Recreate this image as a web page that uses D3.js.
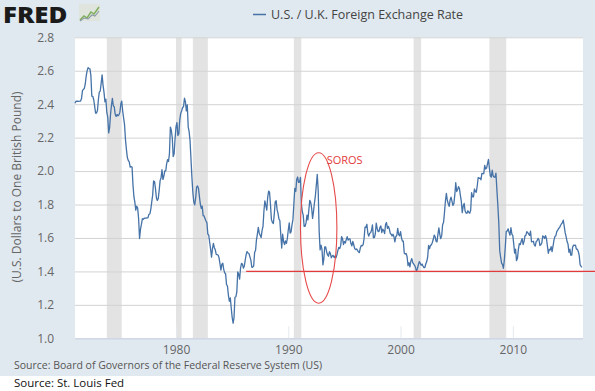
<!DOCTYPE html>
<html><head><meta charset="utf-8">
<script src="https://cdn.jsdelivr.net/npm/d3@7"></script>
<style>
html,body{margin:0;padding:0;background:#fff}
svg{display:block}
text{font-family:"Open Sans",sans-serif}
</style>
</head><body>
<svg id="chart" width="595" height="391"></svg>
<script>
// ---------------- DATA ----------------
const seriesName = "U.S. / U.K. Foreign Exchange Rate";
const yTitle = "(U.S. Dollars to One British Pound)";
const sourceLine = "Source: Board of Governors of the Federal Reserve System (US)";
const creditLine = "Source: St. Louis Fed";
const startYear = 1971; // monthly series starts Jan 1971

const rate1970s = [
  2.4058,2.4178,2.4175,2.4176,2.4174,2.4181,2.4190,2.4334,2.4813,2.4881,2.4947,2.5208,
  2.5695,2.6005,2.6185,2.6130,2.6117,2.5705,2.4480,2.4472,2.4264,2.3882,2.3466,2.3468,
  2.3625,2.4295,2.4718,2.4786,2.5246,2.5756,2.5142,2.4724,2.4141,2.4305,2.3507,2.3228,
  2.2279,2.2618,2.3378,2.3920,2.4346,2.3909,2.3843,2.3392,2.3264,2.3384,2.3305,2.3359,
  2.3525,2.4029,2.4187,2.3605,2.3178,2.2774,2.1884,2.1292,2.0805,2.0634,2.0551,2.0237,
  2.0265,2.0241,1.9174,1.8468,1.8145,1.7659,1.7898,1.7786,1.7147,1.5965,1.6523,1.6808,
  1.7148,1.7112,1.7178,1.7186,1.7182,1.7196,1.7200,1.7410,1.7434,1.7696,1.8139,1.8547,
  1.9410,1.9375,1.8985,1.8418,1.8243,1.8347,1.8832,1.9430,1.9596,2.0081,1.9499,1.9701,
  2.0005,2.0017,2.0428,2.0686,2.0573,2.1045,2.2634,2.2433,2.1992,2.0872,2.1033,2.1952
];
const rate1980s = [
  2.2651,2.2903,2.2132,2.2224,2.3052,2.3449,2.3590,2.3798,2.3850,2.4358,2.4152,2.3595,
  2.3965,2.2623,2.2371,2.1812,2.0733,1.9622,1.8743,1.8149,1.7978,1.8393,1.9055,1.9107,
  1.8965,1.8466,1.8031,1.7771,1.7906,1.7339,1.7316,1.7166,1.7015,1.6915,1.6234,1.6164,
  1.5729,1.5303,1.4858,1.5358,1.5672,1.5417,1.5289,1.5024,1.4997,1.4980,1.4807,1.4450,
  1.4074,1.4437,1.4493,1.4120,1.3921,1.3862,1.3219,1.3123,1.2563,1.2215,1.2415,1.1811,
  1.1255,1.0900,1.1213,1.2456,1.2484,1.2774,1.3964,1.3844,1.3545,1.4215,1.4479,1.4437,
  1.4194,1.4330,1.4666,1.5005,1.5190,1.5099,1.5073,1.4870,1.4672,1.4251,1.4250,1.4328,
  1.5137,1.5261,1.5874,1.6230,1.6629,1.6284,1.6157,1.6025,1.6449,1.6694,1.7644,1.8219,
  1.7946,1.7671,1.8416,1.8806,1.8738,1.7964,1.7097,1.6939,1.6866,1.7413,1.8155,1.8230,
  1.7693,1.7474,1.7137,1.7045,1.6202,1.5397,1.6224,1.5790,1.5606,1.5822,1.5673,1.5968
];
const rate1990s = [
  1.6492,1.6906,1.6292,1.6366,1.6781,1.7110,1.8034,1.8964,1.8784,1.9491,1.9644,1.9321,
  1.9342,1.9618,1.8075,1.7584,1.7367,1.6690,1.6695,1.6899,1.7364,1.7084,1.7687,1.8252,
  1.8119,1.7760,1.7170,1.7595,1.8103,1.8537,1.9159,1.9800,1.8772,1.6409,1.5286,1.5574,
  1.5316,1.4387,1.4736,1.5466,1.5465,1.5178,1.4984,1.4908,1.5178,1.5066,1.4818,1.4923,
  1.4957,1.4827,1.4909,1.4818,1.4988,1.5242,1.5433,1.5362,1.5542,1.6082,1.5959,1.5602,
  1.5788,1.5699,1.5898,1.6078,1.5868,1.5944,1.5948,1.5666,1.5523,1.5792,1.5595,1.5364,
  1.5307,1.5345,1.5254,1.5168,1.5121,1.5403,1.5558,1.5529,1.5598,1.5952,1.6648,1.6628,
  1.6818,1.6275,1.6108,1.6270,1.6319,1.6456,1.6778,1.6022,1.6017,1.6236,1.6883,1.6568,
  1.6383,1.6399,1.6635,1.6720,1.6322,1.6529,1.6458,1.6262,1.6821,1.6925,1.6568,1.6695,
  1.6538,1.6272,1.6227,1.6117,1.6223,1.6067,1.5766,1.6088,1.6149,1.6571,1.6203,1.6129
];
const rate2000s = [
  1.6379,1.6008,1.5818,1.5805,1.5094,1.5042,1.5072,1.4879,1.4349,1.4524,1.4265,1.4614,
  1.4769,1.4531,1.4456,1.4365,1.4253,1.4015,1.4145,1.4382,1.4589,1.4504,1.4367,1.4436,
  1.4321,1.4229,1.4231,1.4441,1.4589,1.4847,1.5549,1.5358,1.5559,1.5590,1.5727,1.5922,
  1.6173,1.6067,1.5807,1.5767,1.6215,1.6602,1.6216,1.5960,1.6140,1.6787,1.6937,1.7529,
  1.8227,1.8666,1.8255,1.8048,1.7888,1.8268,1.8440,1.8193,1.7951,1.8057,1.8593,1.9301,
  1.8776,1.8894,1.9074,1.8948,1.8552,1.8185,1.7510,1.7917,1.8066,1.7615,1.7497,1.7475,
  1.7627,1.7525,1.7482,1.7653,1.8714,1.8461,1.8455,1.8927,1.8773,1.8737,1.9123,1.9614,
  1.9566,1.9583,1.9478,1.9859,1.9844,1.9849,2.0338,2.0125,2.0178,2.0442,2.0701,2.0161,
  1.9709,1.9642,2.0049,1.9717,1.9645,1.9637,1.9875,1.8877,1.7946,1.6919,1.5242,1.4838,
  1.4500,1.4407,1.4186,1.4697,1.5459,1.6396,1.6410,1.6547,1.6335,1.6164,1.6611,1.6226
];
const rate2010s = [
  1.6146,1.5619,1.5091,1.5334,1.4646,1.4777,1.5313,1.5662,1.5606,1.5805,1.5963,1.5608,
  1.5780,1.6124,1.6157,1.6381,1.6328,1.6224,1.6153,1.6402,1.5771,1.5776,1.5804,1.5585,
  1.5517,1.5792,1.5829,1.5975,1.5893,1.5551,1.5592,1.5704,1.6119,1.6088,1.5970,1.6138,
  1.5950,1.5497,1.5085,1.5322,1.5282,1.5486,1.5190,1.5506,1.5873,1.6081,1.6126,1.6375,
  1.6472,1.6577,1.6613,1.6744,1.6837,1.6911,1.7069,1.6698,1.6301,1.6076,1.5783,1.5645,
  1.5144,1.5335,1.4978,1.4970,1.5448,1.5571,1.5556,1.5573,1.5330,1.5331,1.5191,1.4960,
  1.4386,1.4304,1.4245
];

// recessions (start, end) as "YYYY-MM"
const recessionStarts = ["1973-11","1980-01","1981-07","1990-07","2001-03","2007-12"];
const recessionEnds   = ["1975-03","1980-07","1982-11","1991-03","2001-11","2009-06"];

const yTicks = [1.0,1.2,1.4,1.6,1.8,2.0,2.2,2.4,2.6,2.8];
const xTickYears = [1980,1990,2000,2010];

// annotations (hand-drawn on the original)
const supportLevel = 1.40;
const supportStart = "1986-04";
const sorosLabel = "SOROS";
const sorosEllipseDates = ["1991-02","1994-05"];
const sorosEllipseValues = [1.21, 2.11];
const sorosLabelDate = "1993-06";
const sorosLabelValue = 2.045;

// ---------------- DRAW ----------------
const W = 595, H = 391;
const plot = {left: 75, right: 583, top: 37.3, bottom: 338.3};
const svg = d3.select("#chart");
const parseYM = d3.timeParse("%Y-%m");

const values = [].concat(rate1970s, rate1980s, rate1990s, rate2000s, rate2010s);
const data = values.map((v, i) => ({date: new Date(startYear, i, 1), v}));

const x = d3.scaleTime()
  .domain([data[0].date, data[data.length - 1].date])
  .range([plot.left, plot.right - 1]);
const y = d3.scaleLinear().domain([1.0, 2.8]).range([plot.bottom, plot.top]);

// background
svg.append("rect").attr("x", 0).attr("y", 0).attr("width", W).attr("height", 376).attr("fill", "#e1e9f0");
svg.append("rect").attr("x", plot.left).attr("y", plot.top)
  .attr("width", plot.right - plot.left).attr("height", plot.bottom - plot.top).attr("fill", "#ffffff");

// recession bands
svg.append("g").selectAll("rect").data(recessionStarts.map((s, i) => [parseYM(s), parseYM(recessionEnds[i])]))
  .join("rect")
  .attr("x", d => x(d[0])).attr("width", d => x(d[1]) - x(d[0]))
  .attr("y", plot.top).attr("height", plot.bottom - plot.top)
  .attr("fill", "#e3e3e3");

// y axis + gridlines
const gy = svg.append("g").attr("transform", `translate(${plot.left},0)`)
  .call(d3.axisLeft(y).tickValues(yTicks).tickFormat(d3.format(".1f"))
    .tickSize(-(plot.right - plot.left)).tickPadding(21));
gy.select(".domain").remove();
gy.selectAll(".tick line").attr("stroke", "#d3d3d3").attr("stroke-width", 1);
gy.selectAll(".tick text").attr("fill", "#666").attr("font-size", 12).attr("font-family", "Open Sans");

// x axis
const gx = svg.append("g").attr("transform", `translate(0,${plot.bottom})`)
  .call(d3.axisBottom(x).tickValues(xTickYears.map(yr => new Date(yr, 0, 1)))
    .tickFormat(d3.timeFormat("%Y")).tickSize(0).tickPadding(7.5));
gx.select(".domain").attr("stroke", "#ccd6eb");
gx.selectAll(".tick text").attr("fill", "#666").attr("font-size", 12).attr("font-family", "Open Sans");
gx.selectAll(".tick").append("line").attr("y1", -12).attr("y2", 0).attr("stroke", "#e4e9f0");

// series line
svg.append("path").datum(data)
  .attr("fill", "none").attr("stroke", "#4572a7").attr("stroke-width", 1.3)
  .attr("stroke-linejoin", "round")
  .attr("d", d3.line().x(d => x(d.date)).y(d => y(d.v)));

// annotations
svg.append("line")
  .attr("x1", x(parseYM(supportStart))).attr("x2", W)
  .attr("y1", y(supportLevel)).attr("y2", y(supportLevel))
  .attr("stroke", "#e33b3b").attr("stroke-width", 1.2);
const ex0 = x(parseYM(sorosEllipseDates[0])), ex1 = x(parseYM(sorosEllipseDates[1]));
const ey0 = y(sorosEllipseValues[1]), ey1 = y(sorosEllipseValues[0]);
svg.append("ellipse")
  .attr("cx", (ex0 + ex1) / 2).attr("cy", (ey0 + ey1) / 2)
  .attr("rx", (ex1 - ex0) / 2).attr("ry", (ey1 - ey0) / 2)
  .attr("fill", "none").attr("stroke", "#e64a4a").attr("stroke-width", 1.1);
svg.append("text").attr("x", x(parseYM(sorosLabelDate))).attr("y", y(sorosLabelValue))
  .attr("fill", "#e33b3b").attr("font-size", 11).text(sorosLabel);

// y title
svg.append("text").attr("transform", "translate(21,187) rotate(-90)")
  .attr("text-anchor", "middle").attr("fill", "#666").attr("font-size", 12).text(yTitle);

// legend
svg.append("line").attr("x1", 253).attr("x2", 266).attr("y1", 14.5).attr("y2", 14.5)
  .attr("stroke", "#4572a7").attr("stroke-width", 1.5);
svg.append("text").attr("x", 271).attr("y", 19).attr("fill", "#444").attr("font-size", 12.5).text(seriesName);

// sources
svg.append("text").attr("x", 14).attr("y", 369).attr("fill", "#555").attr("font-size", 10.5).text(sourceLine);
svg.append("text").attr("x", 14).attr("y", 387).attr("fill", "#111").attr("font-size", 11.5).text(creditLine);

// FRED logo
svg.append("text").attr("transform", "translate(3,23) scale(1.12,1)")
  .attr("font-family", "Liberation Sans, Arial, sans-serif")
  .attr("font-weight", 900).attr("font-size", 23).attr("fill", "#1b1b1b")
  .text("FRED");
const icon = svg.append("g").attr("transform", "translate(79,4)");
icon.append("rect").attr("width", 21).attr("height", 17).attr("fill", "#dfe5dc");
icon.append("path").attr("d", "M1,16 L5,12 L8,14 L12,8 L15,10 L20,3").attr("fill", "none").attr("stroke", "#7fae5c").attr("stroke-width", 1.5);
icon.append("path").attr("d", "M1,17 L5,14 L9,15 L13,11 L16,12 L20,7").attr("fill", "none").attr("stroke", "#8c9aa8").attr("stroke-width", 1.1);
</script>
</body></html>
